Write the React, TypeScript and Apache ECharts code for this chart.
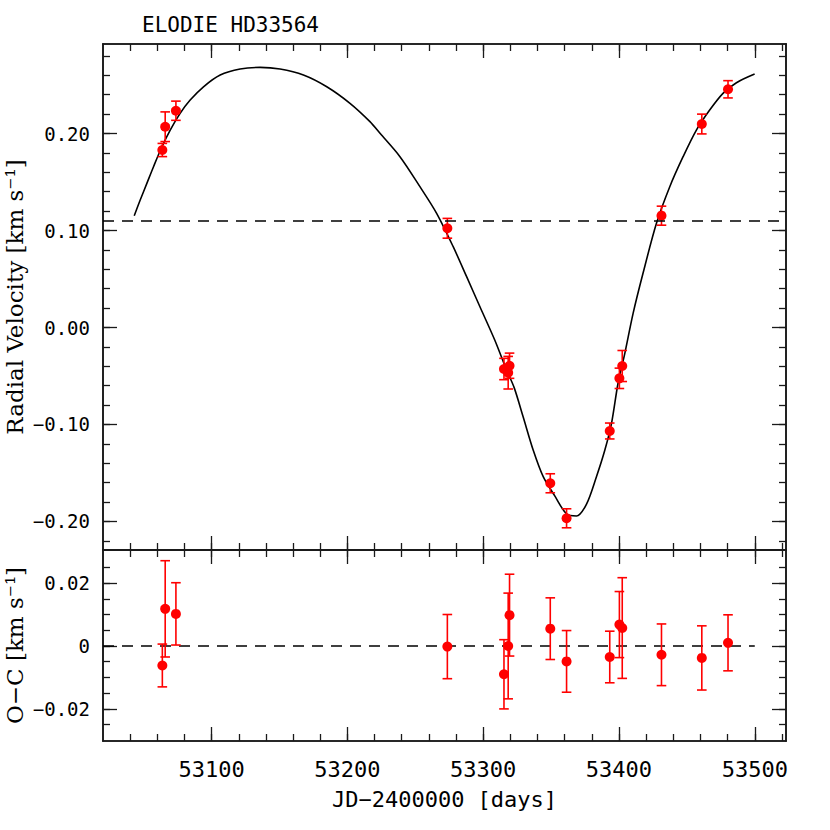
import React, { useEffect, useRef } from 'react';
import * as echarts from 'echarts';

const TITLE = 'ELODIE HD33564';
const X_MIN = 53020;
const X_MAX = 53523;
const RV_MIN = -0.2294;
const RV_MAX = 0.2923;
const OC_MIN = -0.0302;
const OC_MAX = 0.0305;
const GAMMA = 0.1076;
const ZERO_LINE_X = [53020, 53500];

// observations
const obsJd = [53063.7, 53065.8, 53073.7, 53273.6, 53315.3, 53318.4, 53319.4, 53349.4, 53361.4, 53393.2, 53400.3, 53402.4, 53431.3, 53461.0, 53480.3];
const obsRv = [0.183, 0.207, 0.2235, 0.1023, -0.0428, -0.0466, -0.0394, -0.1606, -0.1967, -0.1067, -0.0524, -0.0397, 0.1153, 0.2098, 0.2456];
const obsErr = [0.0068, 0.0153, 0.0099, 0.0102, 0.011, 0.0168, 0.013, 0.0098, 0.0098, 0.0082, 0.0105, 0.016, 0.0098, 0.0102, 0.0089];
const obsOC = [-0.0062, 0.0118, 0.0102, -0.0002, -0.009, 0.0, 0.0098, 0.0055, -0.0049, -0.0035, 0.0068, 0.0057, -0.0028, -0.0038, 0.001];

// orbital model curve
const modelJd = [53043.0, 53047.4, 53052.3, 53057.2, 53063.4, 53069.5, 53076.8, 53084.2, 53094.0, 53106.3, 53121.0, 53135.7, 53150.4, 53167.6, 53184.8, 53201.9, 53216.6, 53224.0, 53238.7, 53253.4, 53265.7, 53277.9, 53287.8, 53297.6, 53308.5, 53317.2, 53322.8, 53329.4, 53336.8, 53344.2, 53352.6, 53361.6, 53368.7, 53376.1, 53383.4, 53389.6, 53394.5, 53399.3, 53404.3, 53410.4, 53417.7, 53427.6, 53437.4, 53447.2, 53457.0, 53466.8, 53476.6, 53486.5, 53499.9];
const modelRv = [0.1153, 0.1314, 0.1486, 0.1658, 0.1864, 0.2036, 0.2208, 0.2345, 0.2482, 0.2603, 0.2665, 0.2682, 0.2665, 0.2603, 0.2482, 0.2311, 0.2122, 0.2002, 0.1761, 0.1452, 0.1177, 0.0833, 0.0524, 0.0214, -0.0129, -0.0438, -0.0620, -0.0920, -0.1263, -0.1538, -0.1734, -0.1925, -0.1943, -0.1820, -0.1538, -0.1263, -0.0988, -0.0575, -0.0266, 0.0146, 0.0559, 0.1074, 0.1452, 0.1761, 0.2036, 0.2242, 0.2414, 0.2524, 0.2613];

// ticks
const xMajorTicks = [53100, 53200, 53300, 53400, 53500];
const xMinorTicks = [53040, 53060, 53080, 53100, 53120, 53140, 53160, 53180, 53200, 53220, 53240, 53260, 53280, 53300, 53320, 53340, 53360, 53380, 53400, 53420, 53440, 53460, 53480, 53500, 53520];
const rvMajorTicks = [-0.2, -0.1, 0, 0.1, 0.2];
const rvMinorTicks = [-0.22, -0.2, -0.18, -0.16, -0.14, -0.12, -0.1, -0.08, -0.06, -0.04, -0.02, 0, 0.02, 0.04, 0.06, 0.08, 0.1, 0.12, 0.14, 0.16, 0.18, 0.2, 0.22, 0.24, 0.26, 0.28];
const ocMajorTicks = [-0.02, 0, 0.02];
const ocMinorTicks = [-0.025, -0.02, -0.015, -0.01, -0.005, 0, 0.005, 0.01, 0.015, 0.02, 0.025];

const X_NAME = 'JD\u22122400000 [days]';
const RV_NAME = 'Radial Velocity [km s\u207B\u00B9]';
const OC_NAME = 'O\u2212C [km s\u207B\u00B9]';

const FRAME = '#1a1a1a';
const RED = '#ff0000';
const MONO = "'DejaVu Sans Mono', monospace";
const SERIF = "'DejaVu Serif', serif";

const fmtRv = (v: number) => (v < -1e-9 ? '\u2212' : '') + Math.abs(v).toFixed(2);
const fmtOc = (v: number) => (Math.abs(v) < 1e-9 ? '0' : (v < 0 ? '\u2212' : '') + Math.abs(v).toFixed(2));

const MAJOR_LEN = 14;
const MINOR_LEN = 7;

function xAxisDef(grid: number, pos: 'top' | 'bottom', ticks: number[], len: number, withLabels: boolean) {
  return {
    type: 'value',
    gridIndex: grid,
    position: pos,
    min: X_MIN,
    max: X_MAX,
    axisLine: { show: true, onZero: false, lineStyle: { color: FRAME, width: 1.6 } },
    axisTick: { show: true, inside: true, length: len, customValues: ticks, lineStyle: { color: FRAME, width: 1.3 } },
    axisLabel: withLabels
      ? {
          show: true,
          customValues: xMajorTicks,
          formatter: (v: number) => String(Math.round(v)),
          fontFamily: MONO,
          fontSize: 22,
          color: '#000',
          margin: 17,
          hideOverlap: false,
        }
      : { show: false },
    name: withLabels ? X_NAME : '',
    nameLocation: 'middle',
    nameGap: 47,
    nameMoveOverlap: false,
    nameTextStyle: { fontFamily: MONO, fontSize: 22, color: '#000' },
    splitLine: { show: false },
  };
}

function yAxisDef(
  grid: number,
  pos: 'left' | 'right',
  min: number,
  max: number,
  ticks: number[],
  len: number,
  labels: number[] | null,
  fmt: ((v: number) => string) | null,
  name: string
) {
  return {
    type: 'value',
    gridIndex: grid,
    position: pos,
    min,
    max,
    axisLine: { show: true, onZero: false, lineStyle: { color: FRAME, width: 1.6 } },
    axisTick: { show: true, inside: true, length: len, customValues: ticks, lineStyle: { color: FRAME, width: 1.3 } },
    axisLabel: labels
      ? {
          show: true,
          customValues: labels,
          formatter: fmt,
          fontFamily: MONO,
          fontSize: 19,
          color: '#000',
          margin: 13,
          hideOverlap: false,
        }
      : { show: false },
    name,
    nameLocation: 'middle',
    nameGap: 77,
    nameMoveOverlap: false,
    nameTextStyle: { fontFamily: SERIF, fontSize: 23, color: '#000' },
    splitLine: { show: false },
  };
}

function errorBarSeries(xIdx: number, yIdx: number, vals: number[]) {
  const data = obsJd.map((x, i) => [x, vals[i] - obsErr[i], vals[i] + obsErr[i]]);
  return {
    type: 'custom',
    xAxisIndex: xIdx,
    yAxisIndex: yIdx,
    z: 3,
    silent: true,
    encode: { x: 0, y: [1, 2] },
    data,
    renderItem: (_params: any, api: any) => {
      const x = api.value(0);
      const lo = api.coord([x, api.value(1)]);
      const hi = api.coord([x, api.value(2)]);
      const hw = 4.8;
      const style = { stroke: RED, lineWidth: 1.6, fill: 'none' };
      return {
        type: 'group',
        children: [
          { type: 'line', shape: { x1: lo[0], y1: lo[1], x2: hi[0], y2: hi[1] }, style },
          { type: 'line', shape: { x1: lo[0] - hw, y1: lo[1], x2: lo[0] + hw, y2: lo[1] }, style },
          { type: 'line', shape: { x1: hi[0] - hw, y1: hi[1], x2: hi[0] + hw, y2: hi[1] }, style },
        ],
      };
    },
  };
}

export default function App() {
  const ref = useRef<HTMLDivElement>(null);
  useEffect(() => {
    if (!ref.current) return;
    const chart = echarts.init(ref.current, null, { renderer: 'svg' });
    const option: any = {
      animation: false,
      backgroundColor: '#ffffff',
      title: {
        text: TITLE,
        left: 137,
        top: 9,
        textStyle: { fontFamily: MONO, fontSize: 21, fontWeight: 'normal', color: '#000' },
      },
      grid: [
        { left: 103, right: 44, top: 44, height: 506, containLabel: false, outerBoundsMode: 'none' },
        { left: 103, right: 44, top: 550, height: 191, containLabel: false, outerBoundsMode: 'none' },
      ],
      xAxis: [
        xAxisDef(0, 'bottom', xMajorTicks, MAJOR_LEN, false),
        xAxisDef(0, 'bottom', xMinorTicks, MINOR_LEN, false),
        xAxisDef(0, 'top', xMajorTicks, MAJOR_LEN, false),
        xAxisDef(0, 'top', xMinorTicks, MINOR_LEN, false),
        xAxisDef(1, 'bottom', xMajorTicks, MAJOR_LEN, true),
        xAxisDef(1, 'bottom', xMinorTicks, MINOR_LEN, false),
        xAxisDef(1, 'top', xMajorTicks, MAJOR_LEN, false),
        xAxisDef(1, 'top', xMinorTicks, MINOR_LEN, false),
      ],
      yAxis: [
        yAxisDef(0, 'left', RV_MIN, RV_MAX, rvMajorTicks, MAJOR_LEN, rvMajorTicks, fmtRv, RV_NAME),
        yAxisDef(0, 'left', RV_MIN, RV_MAX, rvMinorTicks, MINOR_LEN, null, null, ''),
        yAxisDef(0, 'right', RV_MIN, RV_MAX, rvMajorTicks, MAJOR_LEN, null, null, ''),
        yAxisDef(0, 'right', RV_MIN, RV_MAX, rvMinorTicks, MINOR_LEN, null, null, ''),
        yAxisDef(1, 'left', OC_MIN, OC_MAX, ocMajorTicks, MAJOR_LEN, ocMajorTicks, fmtOc, OC_NAME),
        yAxisDef(1, 'left', OC_MIN, OC_MAX, ocMinorTicks, MINOR_LEN, null, null, ''),
        yAxisDef(1, 'right', OC_MIN, OC_MAX, ocMajorTicks, MAJOR_LEN, null, null, ''),
        yAxisDef(1, 'right', OC_MIN, OC_MAX, ocMinorTicks, MINOR_LEN, null, null, ''),
      ],
      series: [
        {
          type: 'line',
          xAxisIndex: 0,
          yAxisIndex: 0,
          z: 2,
          silent: true,
          showSymbol: false,
          symbol: 'none',
          smooth: 0.3,
          data: modelJd.map((x, i) => [x, modelRv[i]]),
          lineStyle: { color: '#000', width: 1.6 },
          markLine: {
            silent: true,
            symbol: ['none', 'none'],
            label: { show: false },
            lineStyle: { color: '#000', width: 1.5, type: [11, 8] },
            data: [{ yAxis: GAMMA }],
          },
        },
        errorBarSeries(0, 0, obsRv),
        {
          type: 'scatter',
          xAxisIndex: 0,
          yAxisIndex: 0,
          z: 4,
          silent: true,
          symbol: 'circle',
          symbolSize: 10,
          itemStyle: { color: RED, opacity: 1 },
          data: obsJd.map((x, i) => [x, obsRv[i]]),
        },
        {
          type: 'line',
          xAxisIndex: 4,
          yAxisIndex: 4,
          z: 2,
          silent: true,
          showSymbol: false,
          symbol: 'none',
          data: ZERO_LINE_X.map((x) => [x, 0]),
          lineStyle: { color: '#000', width: 1.5, type: [11, 8] },
        },
        errorBarSeries(4, 4, obsOC),
        {
          type: 'scatter',
          xAxisIndex: 4,
          yAxisIndex: 4,
          z: 4,
          silent: true,
          symbol: 'circle',
          symbolSize: 10,
          itemStyle: { color: RED, opacity: 1 },
          data: obsJd.map((x, i) => [x, obsOC[i]]),
        },
      ],
    };
    chart.setOption(option);
    return () => chart.dispose();
  }, []);
  return (
    <div
      ref={ref}
      style={{ position: 'fixed', left: 0, top: 0, width: 830, height: 830, background: '#fff' }}
    />
  );
}
